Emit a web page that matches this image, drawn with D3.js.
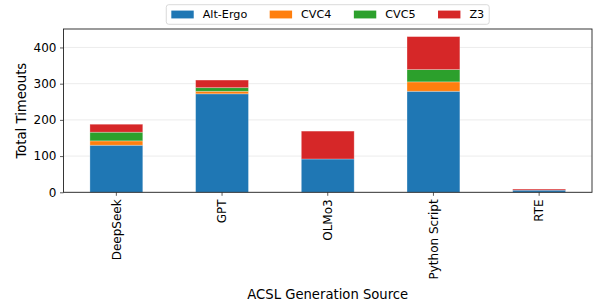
<!DOCTYPE html>
<html>
<head>
<meta charset="utf-8">
<script src="https://cdn.jsdelivr.net/npm/d3@7"></script>
<style>
  body { margin: 0; background: #fff; }
  text { font-family: "DejaVu Sans", sans-serif; fill: #000; }
</style>
</head>
<body>
<svg id="chart" width="595" height="304"></svg>
<script>
// data
var sources = ["DeepSeek", "GPT", "OLMo3", "Python Script", "RTE"];
var solvers = ["Alt-Ergo", "CVC4", "CVC5", "Z3"];
var altErgo = [130, 272, 92, 279, 6];
var cvc4    = [12, 7, 0, 26, 0];
var cvc5    = [24, 10, 0, 34, 0];
var z3      = [22, 21, 77, 91, 3];
var yTicks  = [0, 100, 200, 300, 400];
var colors  = ["#1f77b4", "#ff7f0e", "#2ca02c", "#d62728"];

var rows = sources.map(function (s, i) {
    return { source: s, "Alt-Ergo": altErgo[i], "CVC4": cvc4[i], "CVC5": cvc5[i], "Z3": z3[i] };
});

var mLeft = 63.5, mRight = 592, mTop = 29, mBottom = 192.3;
var fs = 11.2;      // legend
var tickFs = 12;    // tick labels
var labelFs = 13.2; // axis titles

var svg = d3.select("#chart");

var x = d3.scaleBand()
    .domain(sources)
    .range([mLeft, mRight])
    .paddingInner(0.5)
    .paddingOuter(0.25);

var y = d3.scaleLinear()
    .domain([0, 451])
    .range([mBottom, mTop]);

var color = d3.scaleOrdinal().domain(solvers).range(colors);

// grid
svg.append("g")
    .selectAll("line")
    .data(yTicks)
    .join("line")
    .attr("x1", mLeft).attr("x2", mRight)
    .attr("y1", d => y(d)).attr("y2", d => y(d))
    .attr("stroke", "#b0b0b0")
    .attr("stroke-opacity", 0.3)
    .attr("stroke-width", 0.8);

var stacked = d3.stack().keys(solvers)(rows);

svg.append("g")
    .selectAll("g")
    .data(stacked)
    .join("g")
    .attr("fill", d => color(d.key))
    .selectAll("rect")
    .data(d => d.filter(p => p[1] - p[0] > 0))
    .join("rect")
    .attr("x", d => x(d.data.source))
    .attr("width", x.bandwidth())
    .attr("y", d => y(d[1]))
    .attr("height", d => y(d[0]) - y(d[1]))
    .attr("stroke", "#fff")
    .attr("stroke-opacity", 0.35)
    .attr("stroke-width", 0.8);

// axes
var yAxis = svg.append("g")
    .attr("transform", "translate(" + mLeft + ",0)")
    .call(d3.axisLeft(y).tickValues(yTicks).tickSize(3.5).tickPadding(3.5));

var xAxis = svg.append("g")
    .attr("transform", "translate(0," + mBottom + ")")
    .call(d3.axisBottom(x).tickSize(3.5).tickPadding(3.5));

[yAxis, xAxis].forEach(function (a) {
    a.select(".domain").remove();
    a.selectAll("line").attr("stroke", "#333").attr("stroke-width", 0.8);
    a.selectAll("text").style("font-size", tickFs + "px").attr("fill", "#000");
});

xAxis.selectAll("text")
    .attr("transform", "rotate(-90)")
    .attr("text-anchor", "end")
    .attr("x", -7)
    .attr("y", 0)
    .attr("dy", "0.35em");

// frame
svg.append("rect")
    .attr("x", mLeft).attr("y", mTop)
    .attr("width", mRight - mLeft).attr("height", mBottom - mTop)
    .attr("fill", "none")
    .attr("stroke", "#222")
    .attr("stroke-width", 0.9);

// axis titles
svg.append("text")
    .attr("x", (mLeft + mRight) / 2)
    .attr("y", 298.5)
    .attr("text-anchor", "middle")
    .style("font-size", labelFs + "px")
    .text("ACSL Generation Source");

svg.append("text")
    .attr("transform", "translate(26," + (mTop + mBottom) / 2 + ") rotate(-90)")
    .attr("text-anchor", "middle")
    .style("font-size", labelFs + "px")
    .text("Total Timeouts");

// legend, one row above the plot
var legend = svg.append("g");
var box = legend.append("rect");
var hl = 2 * fs, hh = 0.7 * fs, pad = 0.8 * fs, colSp = 2 * fs;
var cx = 0;
solvers.forEach(function (s, i) {
    var g = legend.append("g").attr("transform", "translate(" + cx + ",0)");
    g.append("rect")
        .attr("x", 0).attr("y", -hh / 2)
        .attr("width", hl).attr("height", hh)
        .attr("fill", colors[i]);
    var t = g.append("text")
        .attr("x", hl + pad).attr("y", 0).attr("dy", "0.35em")
        .style("font-size", fs + "px")
        .text(s);
    cx += hl + pad + t.node().getComputedTextLength() + colSp;
});
var inner = cx - colSp;
var bw = inner + 0.9 * fs;
var lx = (mLeft + mRight) / 2 - bw / 2;
var ly = 14.5;
box.attr("x", -0.45 * fs).attr("y", -9.8)
    .attr("width", bw).attr("height", 19.6)
    .attr("rx", 2.5)
    .attr("fill", "#fff").attr("fill-opacity", 0.8)
    .attr("stroke", "#d0d0d0").attr("stroke-width", 0.8);
legend.attr("transform", "translate(" + (lx + 0.45 * fs) + "," + ly + ")");
</script>
</body>
</html>
